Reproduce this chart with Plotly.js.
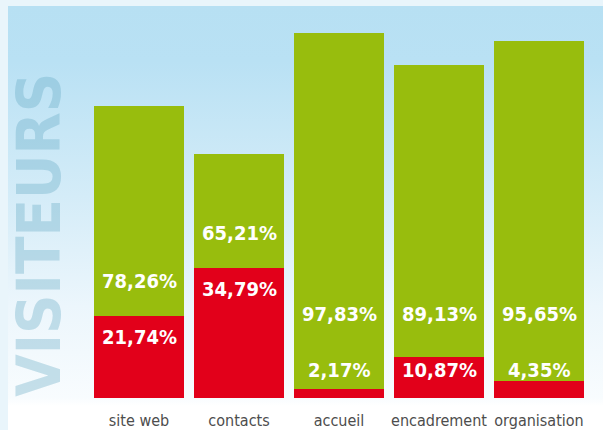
<!DOCTYPE html>
<html>
<head>
<meta charset="utf-8">
<script src="https://cdn.plot.ly/plotly-3.0.1.min.js"></script>
<style>
  html, body { margin: 0; padding: 0; }
  #wrap { position: relative; width: 603px; height: 430px; background: #e9f5fb; overflow: hidden; }
  #panel { position: absolute; left: 8px; top: 6px; right: 0; bottom: 0;
    background: linear-gradient(to bottom, #b7e0f3 0px, #b9e1f4 55px, #d4ecf8 190px, #ecf6fc 300px, #f8fcfe 392px, #ffffff 400px, #ffffff 100%); }
  #chart { position: absolute; left: 0; top: 0; width: 603px; height: 430px; }
</style>
</head>
<body>
<div id="wrap">
  <div id="panel"></div>
  <div id="chart"></div>
</div>
<script>
// Categories
const categories = ["site web", "contacts", "accueil", "encadrement", "organisation"];
// Bar segment heights as drawn (arbitrary scale)
const redValues   = [82, 130, 9, 41, 17];
const greenValues = [210, 114, 356, 292, 340];
// Percent labels shown on the bars
const redLabels   = ["21,74%", "34,79%", "2,17%", "10,87%", "4,35%"];
const greenLabels = ["78,26%", "65,21%", "97,83%", "89,13%", "95,65%"];

const RED = "#e2001a";
const GREEN = "#98bd0d";
const labelFont = { family: "DejaVu Sans Condensed, DejaVu Sans, sans-serif", size: 20, color: "#ffffff", weight: "bold" };

const traces = [
  { type: "bar", x: categories, y: redValues, marker: { color: RED }, hoverinfo: "skip", showlegend: false },
  { type: "bar", x: categories, y: greenValues, marker: { color: GREEN }, hoverinfo: "skip", showlegend: false }
];

const annotations = [];
categories.forEach((c, i) => {
  const yRed = Math.max(redValues[i] - 21, 28);
  const yGreen = yRed + 56;
  annotations.push({ x: c, y: yRed, xref: "x", yref: "y", text: "<b>" + redLabels[i] + "</b>", showarrow: false, font: labelFont, xanchor: "center", yanchor: "middle" });
  annotations.push({ x: c, y: yGreen, xref: "x", yref: "y", text: "<b>" + greenLabels[i] + "</b>", showarrow: false, font: labelFont, xanchor: "center", yanchor: "middle" });
});
annotations.push({
  text: "<b>VISITEURS</b>", xref: "paper", yref: "paper", x: -0.1, y: 0.41,
  xanchor: "center", yanchor: "middle", textangle: -90, showarrow: false,
  font: { family: "DejaVu Sans Condensed, DejaVu Sans, sans-serif", size: 61, color: "rgba(98,168,192,0.34)" }
});

const layout = {
  width: 603, height: 430,
  margin: { l: 89, r: 14, t: 0, b: 32, pad: 0 },
  paper_bgcolor: "rgba(0,0,0,0)",
  plot_bgcolor: "rgba(0,0,0,0)",
  barmode: "stack",
  bargap: 0.1,
  showlegend: false,
  xaxis: {
    type: "category", range: [-0.5, 4.5], showgrid: false, zeroline: false, showline: false,
    ticks: "outside", ticklen: 8, tickcolor: "rgba(0,0,0,0)",
    tickfont: { family: "DejaVu Sans Condensed, DejaVu Sans, sans-serif", size: 16, color: "#4d4d4d" },
    fixedrange: true
  },
  yaxis: { range: [0, 398], visible: false, showgrid: false, zeroline: false, fixedrange: true },
  annotations: annotations
};

Plotly.newPlot("chart", traces, layout, { displayModeBar: false, staticPlot: true });
</script>
</body>
</html>
